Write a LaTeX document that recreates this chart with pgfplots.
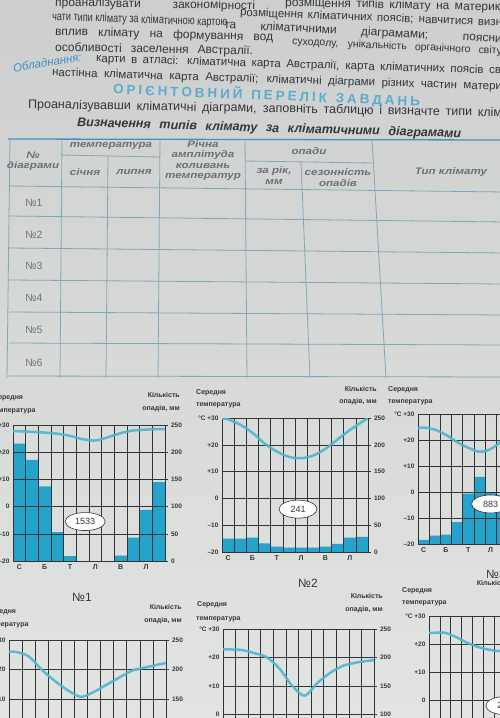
\documentclass[border=0pt]{standalone}
\usepackage{fontspec}
\setmainfont{Liberation Sans}
\newfontfamily\hdrfont{Liberation Sans}[FakeStretch=1.22]
\usepackage{pgfplots}
\pgfplotsset{compat=1.18}
\usetikzlibrary{shapes.geometric}
\definecolor{pagetop}{RGB}{204,207,205}
\definecolor{pagebot}{RGB}{226,228,226}
\definecolor{txt}{RGB}{52,54,56}
\definecolor{thead}{RGB}{108,113,118}
\definecolor{tline}{RGB}{128,166,186}
\definecolor{tborder}{RGB}{72,146,186}
\definecolor{headblue}{RGB}{92,172,203}
\definecolor{eqblue}{RGB}{70,140,196}
\definecolor{barc}{RGB}{38,163,203}
\definecolor{tempc}{RGB}{78,182,206}
\definecolor{gridc}{RGB}{50,52,55}
\newcommand\bodyfont{\fontsize{12}{13}\selectfont}
\newcommand\lblfont{\bfseries\fontsize{7}{8}\selectfont}
\tikzset{
  row/.style={anchor=west, inner sep=0pt, text=txt, font=\bodyfont},
  hdr/.style={inner sep=0pt, text=thead, font=\hdrfont\bfseries\itshape\fontsize{9.5}{10}\selectfont},
  tl/.style={draw=tline, line width=0.8pt},
  lbl/.style={inner sep=0pt, text=txt, font=\lblfont},
  ell/.style={draw=gridc, ellipse, fill=white, line width=0.6pt, minimum width=38pt,
    minimum height=18pt, inner sep=0pt, font=\fontsize{9}{9}\selectfont, text=txt},
  ttl/.style={inner sep=0pt, text=txt, font=\fontsize{12}{12}\selectfont}
}
\pgfplotsset{
  clim/.style={scale only axis, xmin=0, xmax=12, enlargelimits=false,
    tick label style={font=\bfseries\fontsize{6.5}{7}\selectfont, text=txt}},
  precip/.style={clim, ymin=0, ymax=250, axis x line=none, axis y line*=right,
    ytick={0,50,100,150,200,250}, yticklabels={0,50,100,150,200,250},
    axis line style={draw=gridc, line width=0.6pt},
    tick style={draw=gridc, line width=0.5pt},
    major tick length=2.5pt, tick align=outside},
  temp/.style={clim, ymin=-20, ymax=30, ytick={-20,-10,0,10,20,30},
    yticklabels={–20,–10,0,+10,+20,°C +30}, ytick pos=left,
    xtick={0.5,2.5,4.5,6.5,8.5,10.5}, xticklabels={С,Б,Т,Л,В,Л}, xtick pos=bottom,
    minor xtick={0,1,...,12}, xminorgrids=true, ymajorgrids=true, xmajorgrids=false,
    major tick length=0pt, minor tick length=0pt,
    grid style={draw=gridc, line width=0.55pt},
    minor grid style={draw=gridc, line width=0.55pt},
    axis line style={draw=gridc, line width=0.75pt},
    xticklabel style={font=\bfseries\fontsize{7}{7}\selectfont}},
  tline/.style={smooth, tempc, line width=2.5pt, opacity=0.9},
  pbar/.style={ybar, bar width=1, bar shift=0pt, fill=barc, draw=none}
}
\begin{document}
\begin{tikzpicture}
\useasboundingbox (0,0) rectangle (500pt,-718pt);
\clip (0,0) rectangle (500pt,-718pt);
\shade[top color=pagetop, bottom color=pagebot] (0,0) rectangle (500pt,-718pt);
\begin{scope}[x=1pt,y=-1pt]
% ---- introductory text ----
\node[row, rotate=-1] at (55,3) {\makebox[200pt][s]{проаналізувати закономірності}};
\node[row, rotate=-1.3] at (285,3) {\makebox[215pt][s]{розміщення типів клімату на материк}};
\node[row, rotate=-2] at (52,17) {\scalebox{0.76}[1]{чати типи клімату за кліматичною картою}};
\node[row, rotate=-2.2, font=\fontsize{11.5}{12}\selectfont] at (240,13) {\makebox[262pt][s]{розміщення кліматичних поясів; навчитися визн}};
\node[row, rotate=-1.6] at (55,32) {\makebox[218pt][s]{вплив клімату на формування вод}};
\node[row, rotate=-3] at (224,25) {\makebox[278pt][s]{та кліматичними діаграмами; поясни}};
\node[row, rotate=-2.6, font=\fontsize{10.5}{12}\selectfont] at (292,42) {\makebox[210pt][s]{суходолу, унікальність органічного світу}};
\node[row, rotate=-1] at (55,48) {\makebox[198pt][s]{особливості заселення Австралії.}};
\node[row, rotate=9, text=eqblue, font=\itshape\fontsize{11.5}{12}\selectfont] at (13,68) {Обладнання:};
\node[row, rotate=-1.7, font=\fontsize{11.5}{12}\selectfont] at (96,59) {\makebox[405pt][s]{карти в атласі: кліматична карта Австралії, карта кліматичних поясів св}};
\node[row, rotate=-1.8, font=\fontsize{11.5}{12}\selectfont] at (52,73) {\makebox[450pt][s]{настінна кліматична карта Австралії; кліматичні діаграми різних частин матери}};
\node[row, rotate=-2.3, text=headblue, font=\bfseries\fontsize{13.5}{14}\selectfont] at (113,89)
  {\makebox[307pt]{О\hfill Р\hfill І\hfill Є\hfill Н\hfill Т\hfill О\hfill В\hfill Н\hfill И\hfill Й\hfill\hfill\hfill
   П\hfill Е\hfill Р\hfill Е\hfill Л\hfill І\hfill К\hfill\hfill\hfill З\hfill А\hfill В\hfill Д\hfill А\hfill Н\hfill Ь}};
\node[row, rotate=-1, font=\fontsize{12.5}{13}\selectfont] at (28,105) {\makebox[474pt][s]{Проаналізувавши кліматичні діаграми, заповніть таблицю і визначте типи клім}};
\node[row, rotate=-1.7, font=\bfseries\itshape\fontsize{12.5}{13}\selectfont] at (77,123) {\makebox[384pt][s]{Визначення типів клімату за кліматичними діаграмами}};
% ---- table ----
\draw[draw=tborder, line width=1.3pt] (8,139) -- (505,140);
\draw[tl] (10,139) -- (7,378);
\draw[tl] (62,139) -- (60,378);
\draw[tl] (160,139) -- (158,378);
\draw[tl] (245,139) -- (247,378);
\draw[tl] (372,139) -- (386,378);
\draw[tl] (108,156) -- (106,378);
\draw[tl] (301,162) -- (310,378);
\draw[tl] (62,155) -- (160,157);
\draw[tl] (245,161) -- (372,163);
\foreach \a/\b in {186/192, 216/222, 248/253, 280/284, 312/315, 343/345, 376/377}
  \draw[tl] (9,\a) -- (505,\b);
\node[hdr] at (33,155) {№};
\node[hdr] at (33,166) {діаграми};
\node[hdr] at (111,146) {температура};
\node[hdr] at (85,172) {січня};
\node[hdr] at (134,172) {липня};
\node[hdr] at (203,144) {Річна};
\node[hdr] at (203,155) {амплітуда};
\node[hdr] at (203,166) {коливань};
\node[hdr] at (203,177) {температур};
\node[hdr] at (309,151) {опади};
\node[hdr] at (274,171) {за рік,};
\node[hdr] at (274,182) {мм};
\node[hdr] at (338,172) {сезонність};
\node[hdr] at (338,183) {опадів};
\node[hdr] at (451,172) {Тип клімату};
\foreach \n/\y in {1/203, 2/235, 3/266, 4/298, 5/330, 6/363}
  \node[inner sep=0pt, text=thead, font=\fontsize{10.5}{10}\selectfont] at (34,\y) {№\n};
% ---- chart captions ----
\node[lbl, anchor=west] at (-7,398) {Середня};
\node[lbl, anchor=west] at (-9,411) {температура};
\node[lbl, anchor=east] at (180,395) {Кількість};
\node[lbl, anchor=east] at (180,409) {опадів, мм};
\node[ttl] at (82,597) {№1};
\node[lbl, anchor=west] at (196,393) {Середня};
\node[lbl, anchor=west] at (196,405) {температура};
\node[lbl, anchor=east] at (377,389) {Кількість};
\node[lbl, anchor=east] at (377,402) {опадів, мм};
\node[ttl] at (308,583) {№2};
\node[lbl, anchor=west] at (388,390) {Середня};
\node[lbl, anchor=west] at (388,402) {температура};
\node[ttl, anchor=west] at (486,574) {№3};
\node[lbl, anchor=east] at (509,583) {Кількість};
\node[lbl, anchor=west] at (-14,612) {Середня};
\node[lbl, anchor=west] at (-16,625) {температура};
\node[lbl, anchor=east] at (182,607) {Кількість};
\node[lbl, anchor=east] at (182,621) {опадів, мм};
\node[lbl, anchor=west] at (197,605) {Середня};
\node[lbl, anchor=west] at (196,619) {температура};
\node[lbl, anchor=east] at (383,596) {Кількість};
\node[lbl, anchor=east] at (383,610) {опадів, мм};
\node[lbl, anchor=west] at (402,591) {Середня};
\node[lbl, anchor=west] at (402,603) {температура};
\end{scope}
% ================= chart 1 =================
\begin{axis}[precip, at={(13pt,-425pt)}, anchor=north west, width=152pt, height=136pt]
\addplot[pbar] coordinates {(0.5,216) (1.5,186) (2.5,137) (3.5,53) (4.5,9) (5.5,0) (6.5,0) (7.5,0) (8.5,10) (9.5,43) (10.5,94) (11.5,145)};
\end{axis}
\begin{axis}[temp, at={(13pt,-425pt)}, anchor=north west, width=152pt, height=136pt]
\addplot[tline] coordinates {(0,27.8) (0.5,27.7) (1.5,27.5) (2.5,27.2) (3.5,26.8) (4.5,26) (5.5,24.8) (6.5,24.3) (7.5,25.5) (8.5,27) (9.5,28) (10.5,28.3) (11.5,28.5) (12,28.5)};
\node[ell, minimum width=40pt] at (axis cs:5.7,-5.5) {1533};
\end{axis}
% ================= chart 2 =================
\begin{axis}[precip, at={(222pt,-418pt)}, anchor=north west, width=146pt, height=134pt]
\addplot[pbar] coordinates {(0.5,25) (1.5,25) (2.5,27) (3.5,16) (4.5,10) (5.5,8) (6.5,8) (7.5,8) (8.5,10) (9.5,15) (10.5,27) (11.5,28)};
\end{axis}
\begin{axis}[temp, at={(222pt,-418pt)}, anchor=north west, width=146pt, height=134pt]
\addplot[tline] coordinates {(0,29.8) (0.5,29.5) (1.5,27.5) (2.5,24.5) (3.5,20.5) (4.5,17.5) (5.5,15.5) (6.5,15) (7.5,16) (8.5,18.5) (9.5,22) (10.5,25.5) (11.5,28.5) (12,30)};
\node[ell] at (axis cs:6.25,-4) {241};
\end{axis}
% ================= chart 3 =================
\begin{axis}[precip, at={(418pt,-414pt)}, anchor=north west, width=134pt, height=130pt]
\addplot[pbar] coordinates {(0.5,8) (1.5,16) (2.5,18) (3.5,42) (4.5,97) (5.5,129) (6.5,100) (7.5,95) (8.5,70) (9.5,45) (10.5,25) (11.5,12)};
\end{axis}
\begin{axis}[temp, at={(418pt,-414pt)}, anchor=north west, width=134pt, height=130pt]
\addplot[tline] coordinates {(0,24.6) (0.5,24.8) (1.5,24) (2.5,22) (3.5,19.2) (4.5,17) (5.5,15.5) (6.5,16.5) (7.5,19.5) (8.5,22.5) (9.5,24) (10.5,25) (11.5,25) (12,25)};
\node[ell] at (axis cs:6.5,-4.6) {883};
\end{axis}
% ================= chart 4 =================
\begin{axis}[precip, at={(9pt,-640pt)}, anchor=north west, width=157pt, height=148pt]
\end{axis}
\begin{axis}[temp, at={(9pt,-640pt)}, anchor=north west, width=157pt, height=148pt]
\addplot[tline] coordinates {(0,26) (0.5,26) (1.5,24.5) (2.5,20) (3.5,16.2) (4.5,13) (5.5,10.8) (6.5,12.5) (7.5,15) (8.5,17.5) (9.5,19.8) (10.5,20.8) (11.5,21.8) (12,22.2)};
\end{axis}
% ================= chart 5 =================
\begin{axis}[precip, at={(223pt,-629pt)}, anchor=north west, width=151pt, height=142pt]
\end{axis}
\begin{axis}[temp, at={(223pt,-629pt)}, anchor=north west, width=151pt, height=142pt]
\addplot[tline] coordinates {(0,22.8) (0.5,22.8) (1.5,22.6) (2.5,21.5) (3.5,20) (4.5,16) (5.5,10) (6.5,6.5) (7.5,11) (8.5,14.5) (9.5,17) (10.5,18.1) (11.5,18.8) (12,19)};
\end{axis}
% ================= chart 6 =================
\begin{axis}[precip, at={(429pt,-616pt)}, anchor=north west, width=130pt, height=140pt]
\end{axis}
\begin{axis}[temp, at={(429pt,-616pt)}, anchor=north west, width=130pt, height=140pt]
\addplot[tline] coordinates {(0,24) (0.5,24) (1.5,24) (2.5,22.5) (3.5,20.5) (4.5,19) (5.5,18) (6.5,17.5) (7.5,18) (8.5,19.5) (9.5,21) (10.5,22.5) (11.5,23.5) (12,24)};
\node[ell] at (axis cs:7,-2) {265};
\end{axis}
\end{tikzpicture}
\end{document}
